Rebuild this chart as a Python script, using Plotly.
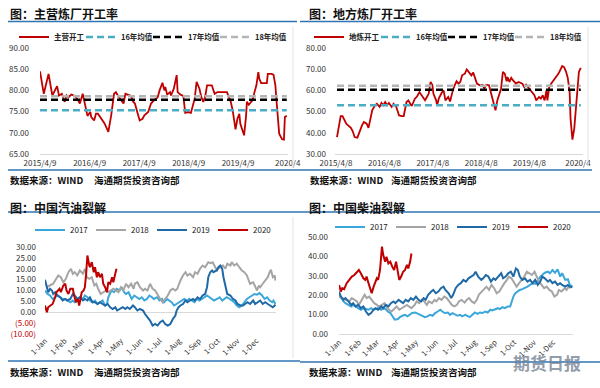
import numpy as np
import pandas as pd
import plotly.graph_objects as go

# ---------------- data ----------------
# 主营炼厂开工率 (weekly, weeks since 2015-04-09)
main_start = "2015-04-09"
main_weeks = [0,4,9,13,18,20,23,26,28,30,33,37,40,42,45,47,50,53,54,57,59,61,65,68,72,75,78,80,82,85,
              88,90,93,96,98,100,103,105,108,110,114,117,119,122,124,126,129,131,132,134,137,138,141,144,145,148,151,153,156,159,
              161,163,165,168,170,172,174,176,181,184,187,197,199,201,203,205,206,208,210,211,214,215,217,218,220,222,224,226,228,230,
              231,233,239,240,244,246,248,249,250,251,252,255,257,258,260]
main_rate = [84.5,79.2,83.9,78.8,81.0,78.8,79.2,77.3,78.8,78.4,79.0,78.7,77.7,76.9,79.2,77.3,74.0,74.9,73.7,72.9,
             74.5,74.5,73.3,72.2,70.2,74.1,79.2,79.6,78.8,77.7,76.9,79.2,79.0,78.7,77.4,76.9,74.5,72.9,73.3,74.1,
             74.9,76.9,77.4,78.1,78.4,80.0,81.8,80.0,80.8,79.0,79.6,78.8,80.4,83.6,79.6,79.0,78.7,74.7,74.9,74.7,
             76.5,78.1,82.0,80.4,78.4,77.3,78.4,81.2,81.2,79.2,79.6,79.6,78.4,77.3,75.3,72.2,70.8,73.3,74.5,72.2,
             70.2,69.4,73.7,77.3,76.6,77.3,77.7,79.6,81.2,84.3,82.8,81.7,81.7,83.9,83.9,83.7,81.2,78.1,75.7,72.5,
             69.8,68.5,68.4,73.7,74.0]
main_avg = {"16年均值": 75.3, "17年均值": 77.8, "18年均值": 78.6}
main_tickdates = ["2015-04-09","2016-04-09","2017-04-09","2018-04-09","2019-04-09","2020-04-09"]
main_ticktext = ["2015/4/9","2016/4/9","2017/4/9","2018/4/9","2019/4/9","2020/4"]

# 地方炼厂开工率 (weekly, weeks since 2015-04-08)
local_start = "2015-04-08"
local_weeks = [1,2,5,7,9,11,13,16,18,20,23,25,28,30,33,35,37,39,42,44,47,49,51,53,55,57,60,62,65,68,
               71,73,76,78,81,82,85,87,90,93,96,98,100,102,104,105,108,109,111,114,116,118,121,123,124,126,128,130,132,134,
               136,139,141,143,146,148,150,152,155,158,160,162,165,167,169,171,172,174,176,178,180,182,184,185,187,189,191,194,197,200,
               201,203,205,207,209,211,214,216,219,221,223,225,227,228,230,232,234,237,240,243,244,246,248,250,252,253,255,257,259,261,
               262,264]
local_rate = [38.0,40.4,47.9,47.9,45.9,44.3,43.5,42.3,40.7,38.0,37.7,40.4,43.5,45.1,44.3,42.3,45.9,50.6,53.0,53.7,
              52.2,54.1,53.0,54.5,53.0,54.1,52.2,53.7,52.2,48.2,47.9,47.9,54.5,55.3,53.0,53.0,56.1,56.9,59.2,56.9,
              55.3,56.9,58.5,64.0,62.4,58.5,55.3,53.0,56.4,58.9,60.0,55.3,56.9,54.8,56.9,60.0,62.4,64.3,63.2,64.0,
              67.1,67.9,69.9,68.7,67.1,68.4,65.5,63.2,62.4,62.7,60.8,62.7,62.4,59.2,55.3,53.0,50.6,55.3,58.5,60.8,
              68.7,67.9,64.3,66.3,64.0,65.9,64.7,63.2,64.0,63.2,63.2,61.6,62.7,61.6,60.5,59.2,57.7,55.3,56.9,56.1,
              57.7,55.3,60.0,55.3,61.6,63.2,64.3,65.9,67.9,70.6,71.5,71.0,69.0,65.9,59.2,46.7,36.8,42.0,52.2,62.4,
              68.7,70.6]
local_avg = {"16年均值": 53.0, "17年均值": 60.3, "18年均值": 62.2}
local_tickdates = ["2015-04-08","2016-04-08","2017-04-08","2018-04-08","2019-04-08","2020-04-08"]
local_ticktext = ["2015/4/8","2016/4/8","2017/4/8","2018/4/8","2019/4/8","2020/4"]

# 汽油裂解 (day of year)
gas_days = {
    "2017": [0,4,8,12,16,20,24,28,32,35,40,44,47,51,55,60,63,67,71,75,79,83,87,91,95,98,100,103,105,109,
             113,118,121,125,128,132,134,137,141,145,149,153,157,161,165,169,172,177,181,185,188,193,197,200,204,208,213,216,220,224,
             228,232,236,240,244,248,252,256,260,264,267,272,276,280,283,287,292,295,299,303,307,311,315,319,323,327,331,335,339,343,
             347,351,355,359,361,364],
    "2018": [2,13,16,21,25,29,33,37,41,44,47,51,55,60,63,66,70,74,78,81,84,88,92,97,100,104,108,112,116,120,
             124,128,132,136,140,142,146,150,155,158,162,166,170,174,178,182,186,190,194,198,202,206,209,214,218,222,225,229,234,237,
             241,245,249,253,256,258,262,265,269,272,274,277,281,285,288,293,295,299,303,307,311,315,319,322,324,329,332,335,338,340,
             344,348,352,355,357,360,363,364],
    "2019": [0,3,5,8,11,13,16,20,24,28,32,35,40,44,47,51,55,60,63,67,71,75,79,83,87,91,95,99,103,107,
             111,114,119,123,127,130,134,139,142,146,150,155,158,162,166,170,174,178,182,186,190,194,198,202,206,208,211,214,218,222,
             225,229,234,237,241,245,249,253,256,258,261,264,266,271,274,277,280,282,285,288,293,297,301,304,309,313,316,320,324,329,
             332,336,340,344,348,352,356,360,363,364],
    "2020": [0,3,5,8,12,16,18,23,25,29,32,34,37,40,44,46,49,52,54,56,58,61,63,65,67,70,71,74,77,79,
             82,84,87,90,92,95,98,100,103,106,108,111,113],
}
gas_vals = {
    "2017": [10.0,8.4,7.7,6.1,6.9,7.7,6.9,6.1,6.1,5.4,4.6,5.4,4.6,6.1,6.9,6.1,7.7,6.9,5.4,4.6,5.4,3.8,4.6,5.4,3.1,3.8,6.9,8.4,10.0,9.2,
             10.8,10.0,11.5,9.2,8.4,9.2,7.7,6.1,7.7,6.9,6.1,6.9,5.4,6.1,7.7,6.9,6.1,6.9,5.4,6.1,4.6,6.1,5.4,4.6,3.1,3.8,4.6,5.4,6.1,5.4,
             6.1,5.4,4.6,6.1,5.4,6.1,6.9,7.7,6.9,6.1,5.4,6.1,6.9,5.4,6.1,6.9,6.1,5.4,4.6,3.1,2.3,3.1,4.6,6.1,6.9,7.7,8.4,8.1,8.8,7.7,
             6.1,6.9,5.4,4.6,5.4,3.8],
    "2018": [11.5,13.1,14.6,16.9,16.1,13.8,15.4,18.4,20.0,17.7,18.4,16.9,19.2,17.7,20.0,16.1,15.4,16.1,12.3,13.1,
             10.8,8.4,9.2,10.0,9.2,10.0,10.8,10.0,9.2,11.5,10.3,13.1,11.5,13.1,10.8,13.1,13.8,11.5,10.0,10.8,
             10.0,13.1,10.8,10.0,7.7,6.1,4.6,6.1,7.7,10.0,10.8,10.0,10.8,14.6,16.9,18.4,16.9,17.7,16.1,18.4,
             17.7,20.0,21.5,20.7,22.3,23.0,22.6,23.0,20.7,19.2,20.0,20.7,21.5,20.0,22.3,21.5,23.0,21.5,22.3,20.7,
             19.2,18.4,16.9,14.6,13.1,13.8,11.5,10.0,12.3,11.5,13.1,14.6,16.1,18.4,19.5,16.1,16.9,14.6],
    "2019": [14.9,11.5,9.2,10.8,10.0,8.4,9.2,7.7,6.9,5.4,6.1,5.4,6.1,8.4,7.7,6.1,6.9,5.4,6.1,5.4,
             6.9,4.6,4.6,3.8,4.6,3.8,3.1,3.8,2.3,1.5,2.3,0.8,1.5,2.3,1.5,2.3,1.5,3.1,2.3,0.8,
             1.5,0.8,-0.8,-2.3,-3.8,-6.1,-5.4,-6.1,-4.6,-3.8,-5.4,-6.1,-5.4,-3.1,-1.5,0.8,2.3,3.1,3.8,5.4,
             4.6,5.4,6.1,5.4,6.9,6.1,7.7,8.4,11.5,16.1,18.4,19.2,18.4,19.2,20.7,21.5,20.0,16.1,11.5,8.4,
             7.7,6.1,5.4,3.8,3.1,3.1,3.8,4.6,3.8,5.4,3.8,4.6,5.4,3.8,4.6,3.8,3.1,2.3,3.1,3.5],
    "2020": [3.1,0.0,2.3,3.1,3.8,6.9,9.2,10.8,9.2,12.3,13.1,10.0,8.4,10.8,10.8,7.7,4.6,6.1,3.1,6.1,
             9.2,10.0,11.5,17.7,26.1,21.5,20.7,23.0,18.4,20.7,16.1,18.4,16.1,17.7,13.1,11.5,9.2,13.8,13.1,16.1,
             13.8,17.7,20.0],
}

# 柴油裂解 (day of year)
diesel_days = {
    "2017": [0,3,7,10,15,19,22,26,30,34,38,42,46,50,54,57,61,66,69,73,76,80,83,87,92,95,99,103,107,111,
             114,119,123,126,130,134,138,142,146,150,154,158,161,165,170,173,177,181,185,189,192,197,201,204,208,212,216,220,224,228,
             232,236,239,243,248,251,255,259,263,267,269,272,275,279,282,286,290,294,298,302,306,310,314,317,321,326,329,333,337,341,
             345,348,353,357,360,364],
    "2018": [0,5,12,16,20,24,28,31,35,40,43,47,51,55,59,62,67,71,74,78,82,86,90,94,98,102,106,109,113,118,
             121,125,129,133,137,140,145,149,152,156,160,164,168,172,176,180,184,187,191,196,199,203,207,211,215,218,223,227,230,234,
             238,242,246,250,254,258,262,265,269,274,277,281,285,289,293,296,301,305,308,312,316,320,324,328,332,336,340,343,347,352,
             355,358,361],
    "2019": [0,3,7,10,15,19,22,26,30,34,38,42,46,50,54,57,61,66,69,73,77,81,85,88,93,97,100,104,108,112,
             116,120,124,128,132,135,139,144,147,151,155,159,163,166,171,175,178,182,186,190,194,198,202,206,210,213,217,222,225,229,
             233,237,241,244,249,253,256,260,264,268,272,276,279,282,286,290,294,298,302,306,310,314,317,321,326,329,333,337,341,345,
             348,353,357,360,364],
    "2020": [0,3,5,8,12,16,20,24,28,31,34,38,41,43,46,48,51,54,56,59,61,64,67,69,72,74,77,80,83,86,
             89,91,94,97,100,103,106,108,111,113],
}
diesel_vals = {
    "2017": [20.2,18.5,16.8,15.9,15.0,14.2,15.0,14.2,13.3,12.5,13.3,12.8,12.5,13.3,12.5,12.8,13.3,12.5,13.3,12.8,
             11.6,10.8,9.1,7.4,7.7,8.7,9.4,9.9,9.1,9.9,10.8,11.1,10.4,9.9,9.4,8.7,9.1,9.9,9.4,10.8,
             11.6,12.5,11.6,10.8,11.1,9.9,10.8,9.9,9.4,9.9,9.1,9.9,9.4,8.7,9.9,11.1,10.4,11.1,10.8,11.6,
             11.1,12.5,12.1,12.8,13.3,12.8,13.8,13.3,14.2,14.2,16.8,19.3,21.0,21.9,22.7,23.1,23.6,24.4,25.3,26.2,
             25.8,27.9,29.6,30.4,31.6,32.1,31.3,33.0,31.6,33.3,29.6,31.3,27.9,28.2,25.3,24.4],
    "2018": [19.3,18.5,17.6,16.8,18.5,17.6,16.8,15.0,17.6,20.2,18.5,19.3,17.6,15.9,15.0,14.2,15.0,15.9,14.2,12.5,
             11.6,12.8,14.2,12.5,13.3,14.2,15.0,14.2,13.3,15.0,16.8,15.9,17.6,16.8,15.0,16.8,15.9,17.6,16.8,18.5,
             17.6,19.3,18.5,16.8,15.0,14.2,15.0,16.8,17.6,16.2,17.6,18.5,16.8,15.9,17.6,20.2,21.9,23.6,24.4,22.7,
             25.3,23.6,21.0,21.9,24.4,26.2,27.9,29.6,28.7,26.2,24.4,26.2,27.9,29.6,32.1,31.3,30.4,32.1,29.6,27.0,
             25.3,23.6,24.4,22.7,21.9,19.3,20.2,22.7,21.9,23.6,22.7,24.4,23.6],
    "2019": [21.9,19.3,17.6,18.5,16.8,15.0,15.9,14.2,15.0,13.3,14.2,11.6,9.9,10.8,12.5,13.3,12.5,14.2,13.3,15.0,
             14.2,15.9,16.8,15.9,17.6,16.8,15.9,17.6,16.8,18.5,17.6,19.3,17.6,16.8,18.5,17.6,20.2,21.9,22.7,21.0,
             21.9,23.6,24.4,22.7,21.0,18.5,20.2,23.6,25.3,26.2,27.9,27.0,28.7,29.6,30.4,32.1,29.6,27.9,28.7,30.4,
             29.6,27.0,28.7,27.9,29.6,31.3,28.7,29.6,31.3,32.1,29.6,33.8,33.0,29.6,27.9,28.7,27.0,27.9,26.2,27.9,
             25.3,27.0,29.6,28.7,27.0,27.9,26.2,27.0,25.3,26.2,25.3,24.4,25.3,24.4,24.1],
    "2020": [25.3,21.9,23.6,23.1,26.2,27.9,29.6,30.4,32.1,33.0,31.3,28.7,27.9,29.6,26.2,23.6,21.0,24.4,26.2,28.7,
             27.9,33.0,45.0,40.7,37.3,39.8,36.4,37.3,34.7,33.0,37.3,33.8,27.9,29.6,32.1,33.0,35.6,33.8,37.3,41.5],
}
season_year_base = "2019-01-01"
month_tickdates = ["2019-%02d-01" % m for m in range(1, 13)]
month_ticktext = ["1-Jan","1-Feb","1-Mar","1-Apr","1-May","1-Jun","1-Jul","1-Aug","1-Sep","1-Oct","1-Nov","1-Dec"]

gas_yvals = [-10, -5, 0, 5, 10, 15, 20, 25, 30]
years = ["2017", "2018", "2019", "2020"]

# ---------------- style ----------------
RED = "#C00000"
CYAN = "#4BACC6"
GRAY_AVG = "#B4B4B4"
SERIES_COLORS = {"2017": "#3AA6DA", "2018": "#A5A5A5", "2019": "#1F69A6", "2020": "#C00000"}
RULE = "#2F75B5"
FONT = "Noto Sans CJK SC"
W, H = 600, 388


def px(x):
    return x / W


def py(y):
    return 1 - y / H


def weeks_to_dates(start, weeks):
    return pd.Timestamp(start) + pd.to_timedelta(np.array(weeks) * 7, unit="D")


def days_to_dates(days):
    return pd.Timestamp(season_year_base) + pd.to_timedelta(np.array(days), unit="D")


fig = go.Figure()
legend_layout = {}
_leg_count = [0]


def new_legend(text_left_px, center_py, size):
    """one legend box per entry, so every entry can sit where the reference shows it"""
    _leg_count[0] += 1
    key = "legend" if _leg_count[0] == 1 else "legend%d" % _leg_count[0]
    legend_layout[key] = dict(x=px(text_left_px - 40), y=py(center_py), xanchor="left", yanchor="middle",
                              orientation="h", bgcolor="rgba(0,0,0,0)", itemwidth=30,
                              font=dict(family=FONT, size=size, color="#222"))
    return key


# --- top panels ---
def add_rate_panel(xa, ya, start, weeks, vals, avgs, label, text_lefts):
    d = weeks_to_dates(start, weeks)
    fig.add_trace(go.Scatter(x=d, y=vals, mode="lines", name="<b>%s</b>" % label, showlegend=True,
                             line=dict(color=RED, width=1.8), xaxis=xa, yaxis=ya,
                             legend=new_legend(text_lefts[0], 37, 7.5)))
    styles = {"16年均值": CYAN, "17年均值": "#000000", "18年均值": GRAY_AVG}
    for i, (k, v) in enumerate(avgs.items()):
        fig.add_trace(go.Scatter(x=[d[0], d[-1]], y=[v, v], mode="lines", name="<b>%s</b>" % k, showlegend=True,
                                 line=dict(color=styles[k], width=2.5, dash="7px,4px"),
                                 xaxis=xa, yaxis=ya, legend=new_legend(text_lefts[i + 1], 37, 7.5)))

add_rate_panel("x", "y", main_start, main_weeks, main_rate, main_avg, "主营开工", [54, 121, 188, 255])
add_rate_panel("x2", "y2", local_start, local_weeks, local_rate, local_avg, "地炼开工", [349, 416, 483, 550])

# --- bottom panels ---
for i, yr in enumerate(years):
    fig.add_trace(go.Scatter(x=days_to_dates(gas_days[yr]), y=gas_vals[yr], mode="lines", name=yr, showlegend=True,
                             line=dict(color=SERIES_COLORS[yr], width=2), xaxis="x3", yaxis="y3",
                             legend=new_legend(70 + 61 * i, 230, 8)))
for i, yr in enumerate(years):
    fig.add_trace(go.Scatter(x=days_to_dates(diesel_days[yr]), y=diesel_vals[yr], mode="lines", name=yr, showlegend=True,
                             line=dict(color=SERIES_COLORS[yr], width=2), xaxis="x4", yaxis="y4",
                             legend=new_legend(370 + 61 * i, 227, 8)))

tickfont = dict(family=FONT, size=8, color="#333333")
axis_common = dict(showgrid=False, zeroline=False, tickfont=tickfont, ticks="", automargin=False)
xtop_font = dict(family=FONT, size=8, color="#333333")
xrot_font = dict(family=FONT, size=7.5, color="#333333")

fig.update_layout(
    width=W, height=H, margin=dict(l=0, r=0, t=0, b=0, autoexpand=False),
    paper_bgcolor="white", plot_bgcolor="white", showlegend=True,
    font=dict(family=FONT, size=9, color="#222"),
    xaxis=dict(domain=[px(40), px(288)], anchor="y", type="date",
               range=["2015-04-09", "2020-04-11"], tickvals=main_tickdates, ticktext=main_ticktext,
               showline=True, linecolor="#D9D9D9", ticklabelstandoff=1, **dict(axis_common, tickfont=xtop_font)),
    yaxis=dict(domain=[py(154), py(48)], anchor="x", range=[65, 90], dtick=5, tickformat=".2f",
               ticklabelstandoff=10, **axis_common),
    xaxis2=dict(domain=[px(335), px(583)], anchor="y2", type="date",
                range=["2015-03-31", "2020-05-16"], tickvals=local_tickdates, ticktext=local_ticktext,
                showline=True, linecolor="#D9D9D9", ticklabelstandoff=1, **dict(axis_common, tickfont=xtop_font)),
    yaxis2=dict(domain=[py(154), py(48)], anchor="x2", range=[30, 80], dtick=10, tickformat=".2f",
                ticklabelstandoff=8, **axis_common),
    xaxis3=dict(domain=[px(45), px(276)], anchor="y3", type="date",
                range=["2019-01-01", "2020-01-01"], tickvals=month_tickdates, ticktext=month_ticktext,
                tickangle=-45, showline=False, **dict(axis_common, tickfont=xrot_font)),
    yaxis3=dict(domain=[py(334), py(247)], anchor="x3", range=[-10, 30], tickvals=gas_yvals,
                ticktext=[("<span style='color:%s'>(%.2f)</span>" % (RED, -v)) if v < 0 else "%.2f" % v
                          for v in gas_yvals],
                ticklabelstandoff=8, showgrid=False, zeroline=True, zerolinecolor="#D9D9D9",
                zerolinewidth=1, tickfont=tickfont, ticks="", automargin=False),
    xaxis4=dict(domain=[px(339), px(573)], anchor="y4", type="date",
                range=["2019-01-01", "2020-01-01"], tickvals=month_tickdates, ticktext=month_ticktext,
                tickangle=-45, showline=True, linecolor="#D9D9D9",
                **dict(axis_common, tickfont=xrot_font)),
    yaxis4=dict(domain=[py(334), py(237)], anchor="x4", range=[0, 50], dtick=10, tickformat=".2f",
                ticklabelstandoff=10, **axis_common),
)
fig.update_layout(**legend_layout)

# --- decorations: titles, rules, sources ---
titles = [("图：主营炼厂开工率", 8, 14), ("图：地方炼厂开工率", 307, 14),
          ("图：中国汽油裂解", 8, 207), ("图：中国柴油裂解", 307, 207)]
for t, x0, y0 in titles:
    fig.add_annotation(x=px(x0), y=py(y0), xref="paper", yref="paper", xanchor="left", yanchor="middle",
                       text="<b>%s</b>" % t, showarrow=False, font=dict(family=FONT, size=12, color="#111"))

rules = [(8, 297, 21.5), (300, 600, 21.5), (8, 300, 212), (300, 600, 212),
         (8, 300, 170), (300, 592, 170), (8, 300, 361), (300, 600, 362)]
for x0, x1, y0 in rules:
    fig.add_shape(type="line", xref="paper", yref="paper", x0=px(x0), x1=px(x1), y0=py(y0), y1=py(y0),
                  line=dict(color=RULE, width=1.5))

frames = [(293, 27, 167), (588, 27, 167), (293, 217, 358)]
for x0, y0, y1 in frames:
    fig.add_shape(type="line", xref="paper", yref="paper", x0=px(x0), x1=px(x0), y0=py(y0), y1=py(y1),
                  line=dict(color="#E3E3E3", width=1))

sources = [(8, 92, 180), (308, 389, 180), (8, 92, 372), (307, 389, 372)]
for xa, xb, y0 in sources:
    fig.add_annotation(x=px(xa), y=py(y0), xref="paper", yref="paper", xanchor="left", yanchor="middle",
                       text="<b>数据来源：WIND</b>", showarrow=False, font=dict(family=FONT, size=9.5, color="#111"))
    fig.add_annotation(x=px(xb), y=py(y0), xref="paper", yref="paper", xanchor="left", yanchor="middle",
                       text="<b>海通期货投资咨询部</b>", showarrow=False, font=dict(family=FONT, size=9.5, color="#111"))

fig.add_annotation(x=px(547), y=py(362), xref="paper", yref="paper", xanchor="center", yanchor="middle",
                   text="<b>期货日报</b>", showarrow=False,
                   font=dict(family=FONT, size=17, color="rgba(110,125,145,0.75)"))

fig.write_html("out.html", config={"displayModeBar": False},
               post_script="document.body.style.margin='0px';document.body.style.overflow='hidden';")
